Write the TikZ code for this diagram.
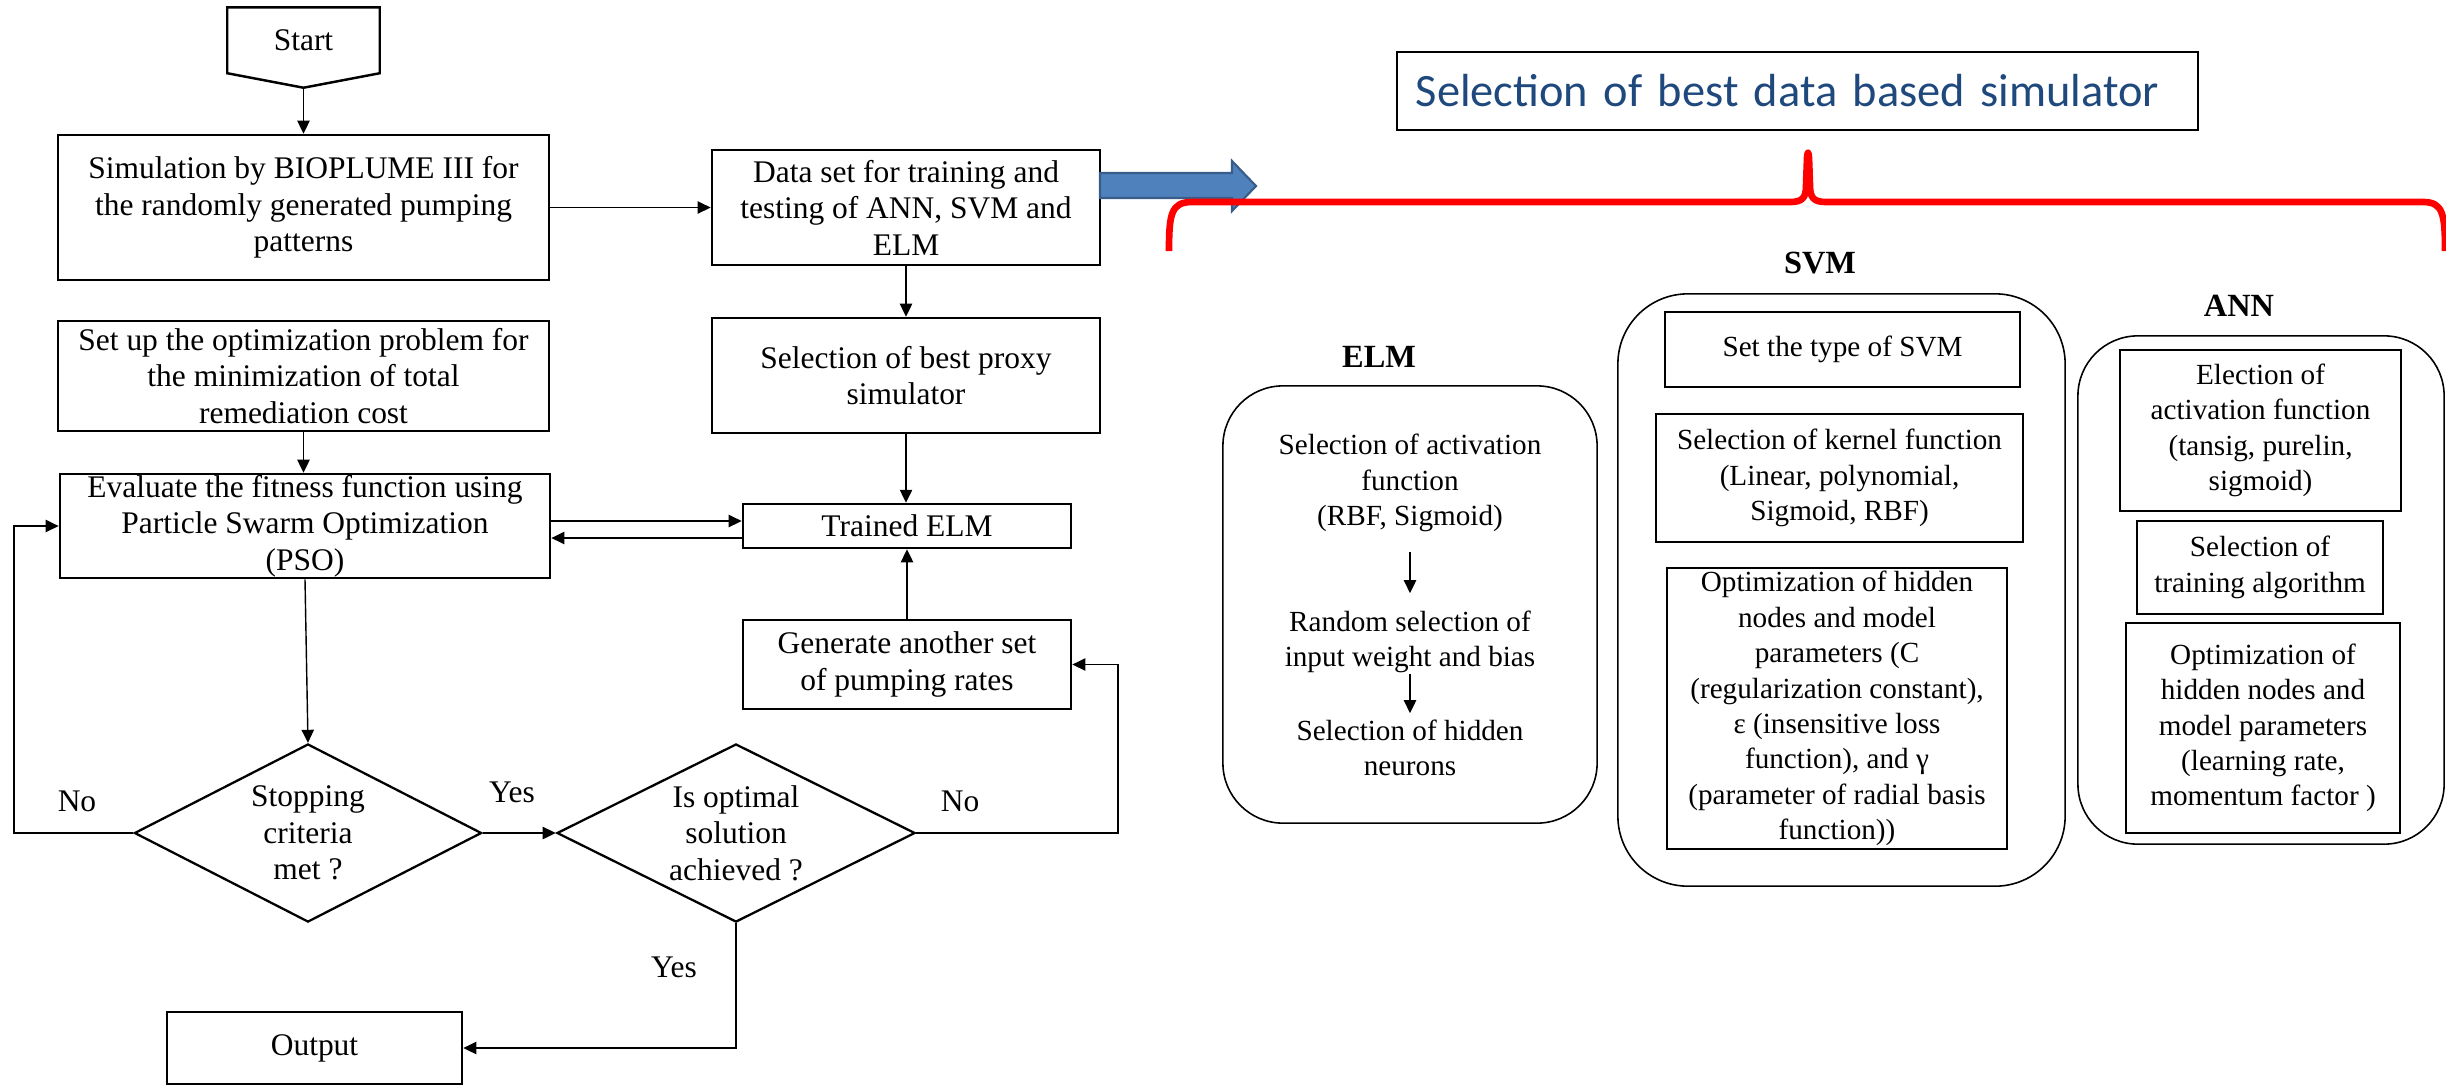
\documentclass[tikz,border=0pt]{standalone}
\usepackage{fontspec}
\setmainfont{Liberation Serif}
\newfontfamily\titlefont{Carlito}
\usepackage{tikz}
\usetikzlibrary{shapes.geometric,arrows.meta,calc}
\definecolor{titleblue}{HTML}{1F497D}
\definecolor{blockfill}{HTML}{4F81BD}
\definecolor{blockline}{HTML}{385D8A}
\tikzset{
  flowbox/.style={draw,line width=0.7pt,align=center,inner sep=0pt,font=\fontsize{8.95}{10.4}\selectfont},
  decision/.style={diamond,draw,line width=0.65pt,aspect=2,inner sep=0pt,align=center,font=\fontsize{8.95}{10.4}\selectfont},
  conn/.style={line width=0.4pt,-{Triangle[length=3.7pt,width=3.5pt]}},
  answer/.style={font=\fontsize{8.95}{10.4}\selectfont},
  groupbox/.style={draw,line width=0.45pt,inner sep=0pt},
  grouplabel/.style={font=\fontsize{9.2}{11}\selectfont\bfseries},
  modelbox/.style={draw,line width=0.6pt,align=center,inner sep=0pt,font=\fontsize{8.3}{10.05}\selectfont},
  modeltext/.style={align=center,inner sep=0pt,font=\fontsize{8.3}{10.05}\selectfont},
}

\begin{document}
\begin{tikzpicture}[x=0.01cm,y=-0.01cm]
  \useasboundingbox (0,0) rectangle (2446,1084);

  \node[minimum width=1.51cm,minimum height=0.645cm,inner sep=0pt,
    font=\fontsize{8.95}{10.4}\selectfont] (start) at (303.5,40.25) {Start};
  \coordinate (starttip) at ($(start.south)+(0,14.5)$);
  \draw[line width=0.7pt] (start.south west) -- (start.north west)
    -- (start.north east) -- (start.south east) -- (starttip) -- cycle;

  \node[flowbox,minimum width=4.91cm,minimum height=1.45cm] (sim) at (303.5,207.5)
    {Simulation by BIOPLUME III for\\the randomly generated pumping\\patterns};
  \node[flowbox,minimum width=3.88cm,minimum height=1.15cm] (data) at (906,207.5)
    {Data set for training and\\testing of ANN, SVM and\\ELM};
  \node[flowbox,minimum width=4.91cm,minimum height=1.10cm] (setup) at (303.5,376)
    {Set up the optimization problem for\\the minimization of total\\remediation cost};
  \node[flowbox,minimum width=3.88cm,minimum height=1.15cm] (proxy) at (906,375.5)
    {Selection of best proxy\\simulator};
  \node[flowbox,minimum width=4.90cm,minimum height=1.04cm] (eval) at (305,526)
    {Evaluate the fitness function using\\Particle Swarm Optimization\\(PSO)};
  \node[flowbox,minimum width=3.28cm,minimum height=0.44cm] (trained) at (907,526)
    {Trained ELM};
  \node[flowbox,minimum width=3.28cm,minimum height=0.89cm] (generate) at (907,664.5)
    {Generate another set\\of pumping rates};
  \node[decision,minimum width=3.47cm,minimum height=1.78cm] (stop) at (308,833)
    {Stopping\\criteria\\met ?};
  \node[decision,minimum width=3.58cm,minimum height=1.78cm] (optimal) at (736,833)
    {Is optimal\\solution\\achieved ?};
  \node[flowbox,minimum width=2.95cm,minimum height=0.72cm] (output) at (314.5,1048)
    {Output};

  \draw[conn] (starttip) -- (sim);
  \draw[conn] (sim) -- (data);
  \draw[conn] (data) -- (proxy);
  \draw[conn] (proxy.south) -- (proxy.south |- trained.north);
  \draw[conn] (setup.south) -- (setup.south |- eval.north);
  \draw[conn] (eval.south) -- (stop.north);
  \draw[conn] ($(eval.east)+(0,-5)$) -- ($(trained.west)+(0,-5)$);
  \draw[conn] ($(trained.west)+(0,12)$) -- ($(eval.east)+(0,12)$);
  \draw[conn] (generate) -- (trained);
  \draw[conn] (stop) -- (optimal);
  \coordinate (noleft) at (14,833);
  \draw[conn] (stop.west) -- (noleft) |- (eval.west);
  \coordinate (noright) at (1118,833);
  \draw[conn] (optimal.east) -- (noright) |- (generate.east);
  \draw[conn] (optimal.south) |- (output.east);

  \node[answer] (stopno) at (77,801) {No};
  \node[answer] (stopyes) at (512,792) {Yes};
  \node[answer] (optno) at (960,801) {No};
  \node[answer] (optyes) at (674,967) {Yes};

  \node[draw,line width=0.6pt,minimum width=8.01cm,minimum height=0.78cm,
    inner xsep=0.19cm,inner ysep=0pt,text width=7.63cm,align=left,text=titleblue,
    font=\titlefont\fontsize{13.2}{16}\selectfont] (title) at (1797.5,91)
    {Selection of best data based simulator};

  \draw[fill=blockfill,draw=blockline,line width=0.6pt] (1100,173) -- (1232,173)
    -- (1232,161) -- (1256,186) -- (1232,211) -- (1232,198) -- (1100,198) -- cycle;

  \draw[red,line width=1.9pt,line join=round] (1169,251)
    .. controls (1169,214) and (1171,202) .. (1192,202) -- (1790,202)
    .. controls (1802,202) and (1806,198) .. (1806,186) -- (1807,158)
    .. controls (1807.5,151) and (1808.5,151) .. (1809,158) -- (1810,186)
    .. controls (1810,198) and (1814,202) .. (1826,202) -- (2423,202)
    .. controls (2443,202) and (2445,214) .. (2445,251);

  \node[groupbox,minimum width=3.74cm,minimum height=4.37cm,rounded corners=0.6cm]
    (elmgrp) at (1410,604.5) {};
  \node[groupbox,minimum width=4.47cm,minimum height=5.92cm,rounded corners=0.7cm]
    (svmgrp) at (1841.5,590) {};
  \node[groupbox,minimum width=3.66cm,minimum height=5.08cm,rounded corners=0.6cm]
    (anngrp) at (2261,590) {};

  \node[grouplabel] (elmlbl) at (1379,357) {ELM};
  \node[grouplabel] (svmlbl) at (1820,263) {SVM};
  \node[grouplabel] (annlbl) at (2239,306) {ANN};

  \node[modeltext] (elmact) at (1410,483)
    {Selection of activation\\function\\(RBF, Sigmoid)};
  \node[modeltext] (elmrand) at (1410,642)
    {Random selection of\\input weight and bias};
  \node[modeltext] (elmhid) at (1410,748)
    {Selection of hidden\\neurons};
  \draw[conn,shorten <=0.2cm,shorten >=0.17cm] (elmact) -- (elmrand);
  \draw[conn,shorten >=0.06cm] (elmrand) -- (elmhid);

  \node[modelbox,minimum width=3.55cm,minimum height=0.75cm] (svmtype) at (1842.5,349.5)
    {Set the type of SVM};
  \node[modelbox,minimum width=3.67cm,minimum height=1.28cm] (kernel) at (1839.5,478)
    {Selection of kernel function\\(Linear, polynomial,\\Sigmoid, RBF)};
  \node[modelbox,minimum width=3.40cm,minimum height=2.81cm] (svmopt) at (1837,708.5)
    {Optimization of hidden\\nodes and model\\parameters (C\\(regularization constant),\\ε (insensitive loss\\function), and γ\\(parameter of radial basis\\function))};
  \node[modelbox,minimum width=2.81cm,minimum height=1.61cm] (election) at (2260.5,430.5)
    {Election of\\activation function\\(tansig, purelin,\\sigmoid)};
  \node[modelbox,minimum width=2.46cm,minimum height=0.93cm] (training) at (2260,567.5)
    {Selection of\\training algorithm};
  \node[modelbox,minimum width=2.74cm,minimum height=2.10cm] (annopt) at (2263,728)
    {Optimization of\\hidden nodes and\\model parameters\\(learning rate,\\momentum factor )};
\end{tikzpicture}
\end{document}
